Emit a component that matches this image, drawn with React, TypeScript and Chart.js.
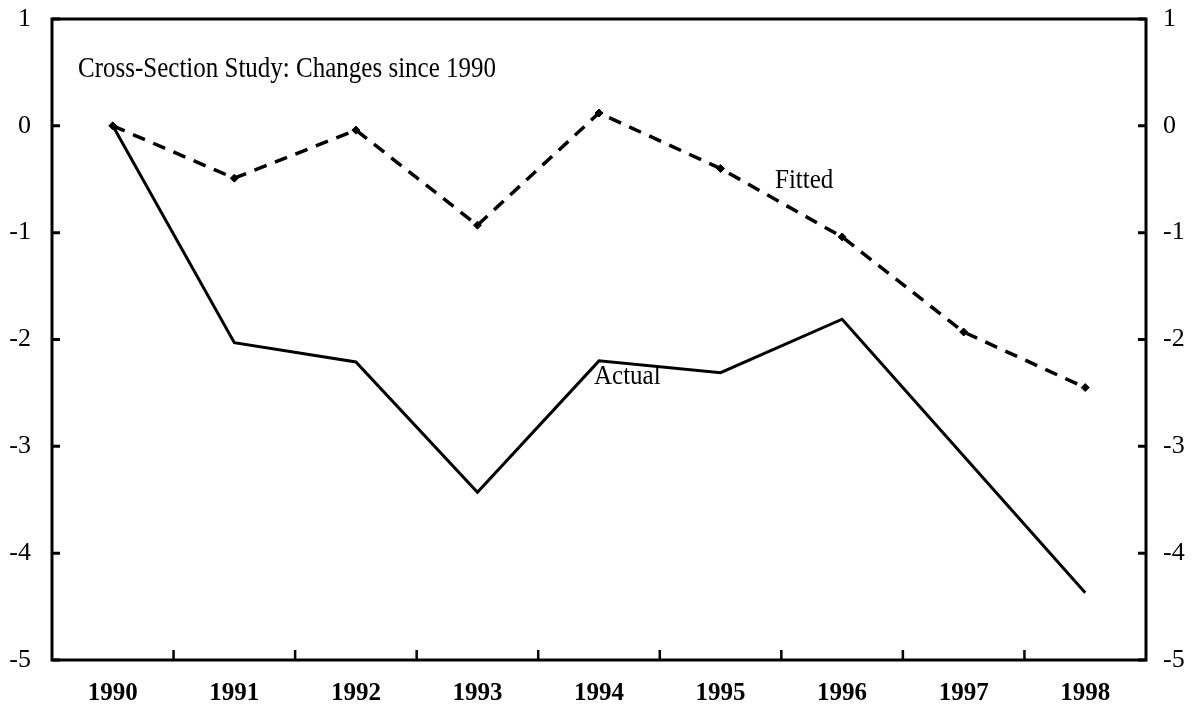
import React, { useEffect, useRef } from "react";
import { Chart, registerables } from "chart.js";

Chart.register(...registerables);

const years = ["1990", "1991", "1992", "1993", "1994", "1995", "1996", "1997", "1998"];
const actualValues = [0, -2.03, -2.21, -3.43, -2.2, -2.31, -1.81, -3.09, -4.37];
const fittedValues = [0, -0.49, -0.04, -0.93, 0.12, -0.4, -1.04, -1.93, -2.45];
const yTickValues = [1, 0, -1, -2, -3, -4, -5];
const titleText = "Cross-Section Study: Changes since 1990";
const fittedLabel = "Fitted";
const actualLabel = "Actual";

const SERIF = "'Liberation Serif', 'Times New Roman', serif";

const framePlugin = {
  id: "framePlugin",
  afterDraw(chart: any) {
    const { ctx, chartArea } = chart;
    const { left, right, top, bottom } = chartArea;
    const x = chart.scales.x;
    const y = chart.scales.y;
    ctx.save();
    ctx.strokeStyle = "#000";
    ctx.lineWidth = 3;
    ctx.strokeRect(left, top, right - left, bottom - top);
    ctx.beginPath();
    y.ticks.forEach((t: any) => {
      const py = y.getPixelForValue(t.value);
      ctx.moveTo(left, py);
      ctx.lineTo(left + 8, py);
      ctx.moveTo(right - 8, py);
      ctx.lineTo(right, py);
    });
    ctx.stroke();
    ctx.lineWidth = 2.5;
    ctx.beginPath();
    for (let i = 0; i < years.length - 1; i++) {
      const px = (x.getPixelForValue(i) + x.getPixelForValue(i + 1)) / 2;
      ctx.moveTo(px, bottom);
      ctx.lineTo(px, bottom - 10);
    }
    ctx.stroke();
    ctx.fillStyle = "#000";
    ctx.textBaseline = "alphabetic";
    ctx.textAlign = "left";
    // title, slightly tall glyphs as in the scanned original
    ctx.save();
    ctx.translate(left + 26, top + 58);
    ctx.scale(1, 1.22);
    ctx.font = `25px ${SERIF}`;
    ctx.fillText(titleText, 0, 0);
    ctx.restore();
    ctx.save();
    ctx.translate(775, 188);
    ctx.scale(1, 1.08);
    ctx.font = `25px ${SERIF}`;
    ctx.fillText(fittedLabel, 0, 0);
    ctx.restore();
    ctx.save();
    ctx.translate(594, 384);
    ctx.scale(1, 1.08);
    ctx.font = `25px ${SERIF}`;
    ctx.fillText(actualLabel, 0, 0);
    ctx.restore();
    ctx.restore();
  },
};

export default function App() {
  const ref = useRef<HTMLCanvasElement | null>(null);
  useEffect(() => {
    document.body.style.margin = "0";
    const canvas = ref.current!;
    const yTicksCallback = (v: any) => String(v);
    const zeroPad = (scale: any) => {
      scale.paddingTop = 0;
      scale.paddingBottom = 0;
      scale.paddingLeft = 0;
      scale.paddingRight = 0;
    };
    const chart = new Chart(canvas, {
      type: "line",
      data: {
        labels: years,
        datasets: [
          {
            label: "Actual",
            data: actualValues,
            borderColor: "#000",
            borderWidth: 3,
            pointRadius: 0,
            tension: 0,
            fill: false,
          },
          {
            label: "Fitted",
            data: fittedValues,
            borderColor: "#000",
            backgroundColor: "#000",
            borderWidth: 3.5,
            borderDash: [13, 9],
            pointStyle: "rectRot",
            pointRadius: 4,
            pointBorderWidth: 1,
            tension: 0,
            fill: false,
          },
        ],
      },
      options: {
        responsive: false,
        animation: false,
        events: [],
        layout: { padding: { top: 19, left: 0, right: 0, bottom: 0 } },
        plugins: { legend: { display: false }, tooltip: { enabled: false } },
        scales: {
          x: {
            offset: true,
            grid: { display: false, offset: true, drawTicks: false },
            border: { display: false },
            ticks: {
              color: "#000",
              font: { family: SERIF, size: 25, weight: "bold" },
              padding: 19,
              maxRotation: 0,
              autoSkip: false,
            },
            afterFit(scale: any) {
              scale.height = 57;
              zeroPad(scale);
            },
          },
          y: {
            position: "left",
            min: -5,
            max: 1,
            afterBuildTicks(scale: any) {
              scale.ticks = yTickValues.map((v) => ({ value: v }));
            },
            grid: { display: false, drawTicks: false },
            border: { display: false },
            ticks: {
              color: "#000",
              font: { family: SERIF, size: 26 },
              padding: 21,
              callback: yTicksCallback,
            },
            afterFit(scale: any) {
              scale.width = 52;
              zeroPad(scale);
            },
          },
          y2: {
            position: "right",
            min: -5,
            max: 1,
            afterBuildTicks(scale: any) {
              scale.ticks = yTickValues.map((v) => ({ value: v }));
            },
            grid: { display: false, drawTicks: false },
            border: { display: false },
            ticks: {
              color: "#000",
              font: { family: SERIF, size: 26 },
              padding: 17,
              callback: yTicksCallback,
            },
            afterFit(scale: any) {
              scale.width = 52;
              zeroPad(scale);
            },
          },
        },
      },
      plugins: [framePlugin],
    });
    return () => chart.destroy();
  }, []);
  return (
    <div style={{ position: "fixed", left: 0, top: 0, width: 1198, height: 717, background: "#fff" }}>
      <canvas ref={ref} width={1198} height={717} style={{ width: 1198, height: 717, display: "block" }} />
    </div>
  );
}
